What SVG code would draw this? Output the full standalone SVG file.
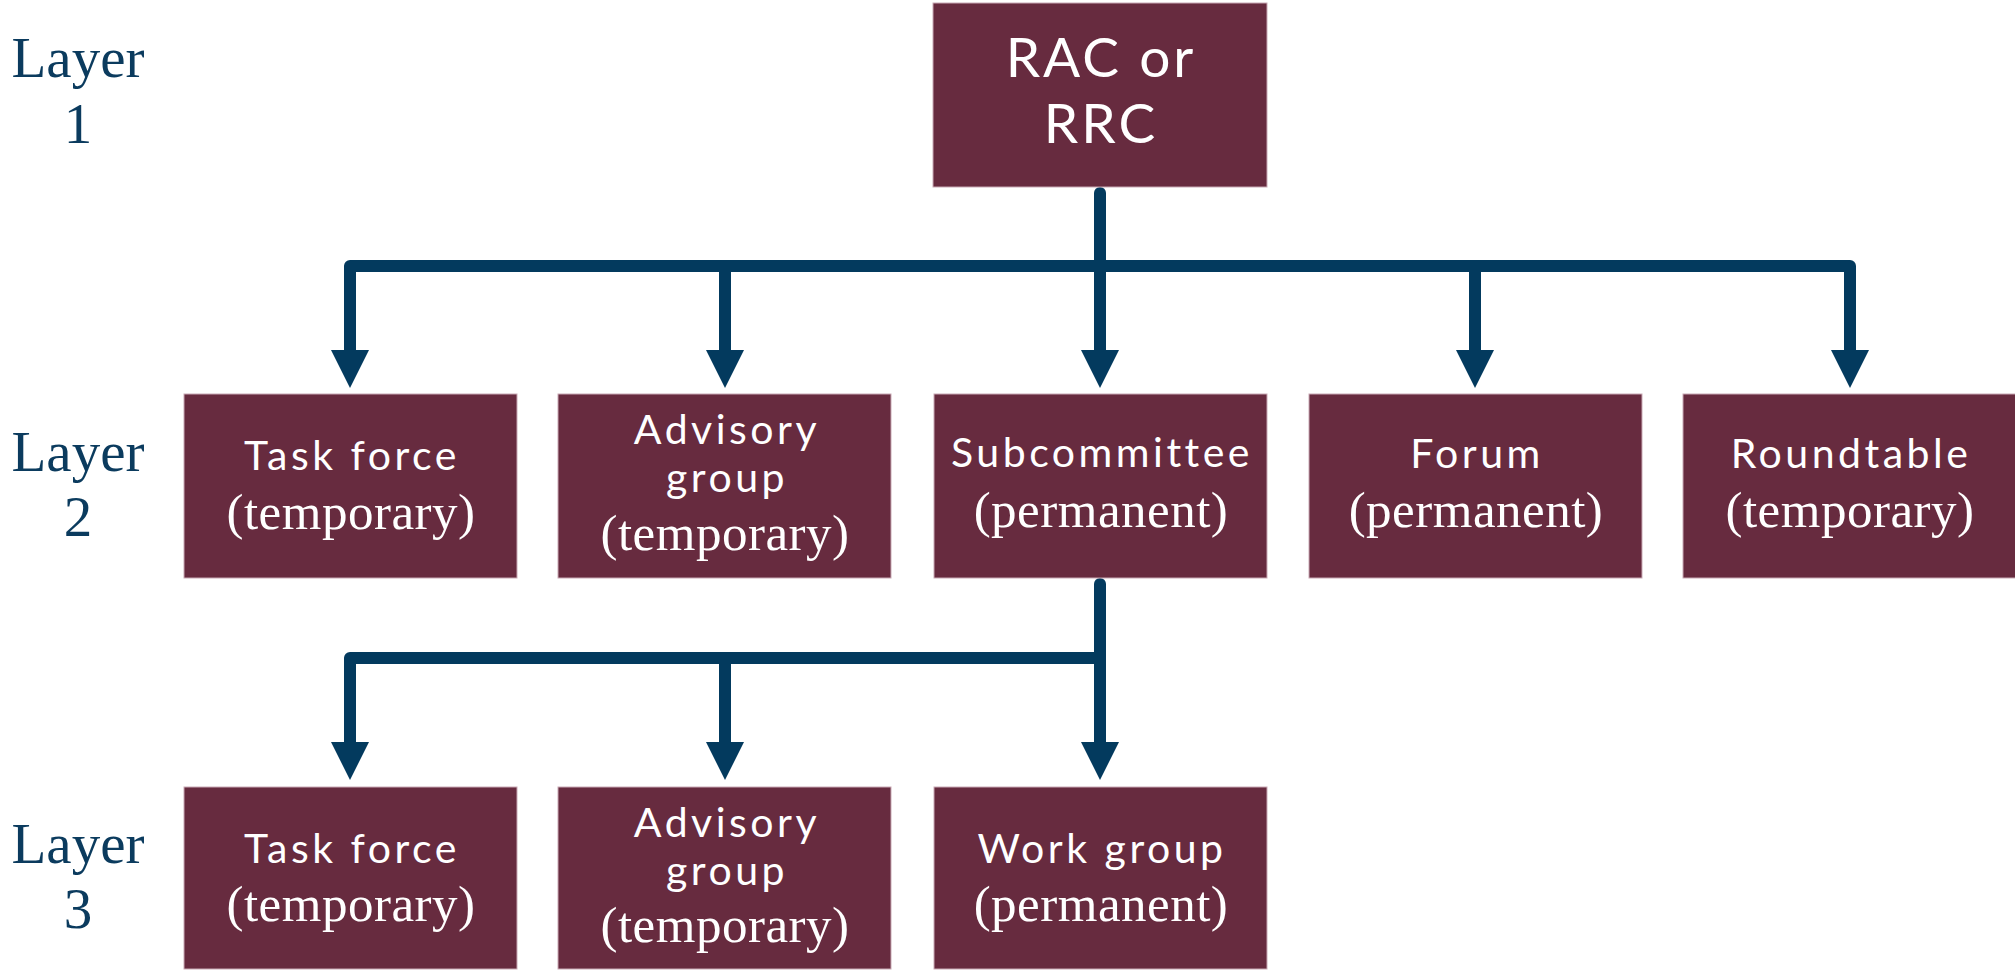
<svg xmlns="http://www.w3.org/2000/svg" width="2015" height="971" viewBox="0 0 2015 971">
<style>
.box{fill:#672b3f;stroke:#c9aab5;stroke-width:1}
.sans{font-family:Lato,"Open Sans","Liberation Sans",sans-serif;font-size:41px;fill:#ffffff;text-anchor:middle;letter-spacing:3.5px}
.big{font-family:Lato,"Open Sans","Liberation Sans",sans-serif;font-size:55px;fill:#ffffff;text-anchor:middle;letter-spacing:3px}
.serif{font-family:"Liberation Serif",serif;font-size:51px;fill:#ffffff;text-anchor:middle;letter-spacing:0.5px}
.layer{font-family:"Liberation Serif",serif;font-size:57px;fill:#0b3b5e;text-anchor:middle}
.conn{fill:none;stroke:#033a5e;stroke-width:12;stroke-linejoin:round}
.stem{fill:none;stroke:#033a5e;stroke-width:12;stroke-linecap:round}
</style>
<defs>
<marker id="arrow" markerUnits="userSpaceOnUse" markerWidth="40" markerHeight="40" viewBox="0 -20 40 40" refX="0" refY="0" orient="auto" overflow="visible">
<path d="M0,-19 L38,0 L0,19 Z" fill="#033a5e"/>
</marker>
</defs>
<rect width="2015" height="971" fill="#ffffff"/>
<g id="layer-labels">
<text class="layer" x="78" y="77">Layer</text>
<text class="layer" x="78" y="143">1</text>
<text class="layer" x="78" y="471">Layer</text>
<text class="layer" x="78" y="536">2</text>
<text class="layer" x="78" y="863">Layer</text>
<text class="layer" x="78" y="928">3</text>
</g>
<g id="connectors">
<path class="stem" d="M1100,193 V350" marker-end="url(#arrow)"/>
<path class="conn" d="M1100,266 H350 V350" marker-end="url(#arrow)"/>
<path class="conn" d="M1100,266 H1850 V350" marker-end="url(#arrow)"/>
<path class="conn" d="M725,266 V350" marker-end="url(#arrow)"/>
<path class="conn" d="M1475,266 V350" marker-end="url(#arrow)"/>
<path class="stem" d="M1100,584 V742" marker-end="url(#arrow)"/>
<path class="conn" d="M1100,658 H350 V742" marker-end="url(#arrow)"/>
<path class="conn" d="M725,658 V742" marker-end="url(#arrow)"/>
</g>
<g id="rac-rrc">
<rect class="box" x="933" y="3" width="334" height="184"/>
<text class="big" x="1101" y="77">RAC or</text>
<text class="big" x="1101" y="143">RRC</text>
</g>
<g id="task-force-2">
<rect class="box" x="184" y="394" width="333" height="184"/>
<text class="sans" x="352" y="470">Task force</text>
<text class="serif" x="351" y="529">(temporary)</text>
</g>
<g id="advisory-2">
<rect class="box" x="558" y="394" width="333" height="184"/>
<text class="sans" x="727" y="444">Advisory</text>
<text class="sans" x="727" y="492">group</text>
<text class="serif" x="725" y="550">(temporary)</text>
</g>
<g id="subcommittee">
<rect class="box" x="934" y="394" width="333" height="184"/>
<text class="sans" x="1102" y="467">Subcommittee</text>
<text class="serif" x="1101" y="527">(permanent)</text>
</g>
<g id="forum">
<rect class="box" x="1309" y="394" width="333" height="184"/>
<text class="sans" x="1477" y="468">Forum</text>
<text class="serif" x="1476" y="527">(permanent)</text>
</g>
<g id="roundtable">
<rect class="box" x="1683" y="394" width="334" height="184"/>
<text class="sans" x="1851" y="468">Roundtable</text>
<text class="serif" x="1850" y="527">(temporary)</text>
</g>
<g id="task-force-3">
<rect class="box" x="184" y="787" width="333" height="182"/>
<text class="sans" x="352" y="863">Task force</text>
<text class="serif" x="351" y="921">(temporary)</text>
</g>
<g id="advisory-3">
<rect class="box" x="558" y="787" width="333" height="182"/>
<text class="sans" x="727" y="837">Advisory</text>
<text class="sans" x="727" y="885">group</text>
<text class="serif" x="725" y="942">(temporary)</text>
</g>
<g id="work-group">
<rect class="box" x="934" y="787" width="333" height="182"/>
<text class="sans" x="1102" y="863">Work group</text>
<text class="serif" x="1101" y="921">(permanent)</text>
</g>
</svg>
